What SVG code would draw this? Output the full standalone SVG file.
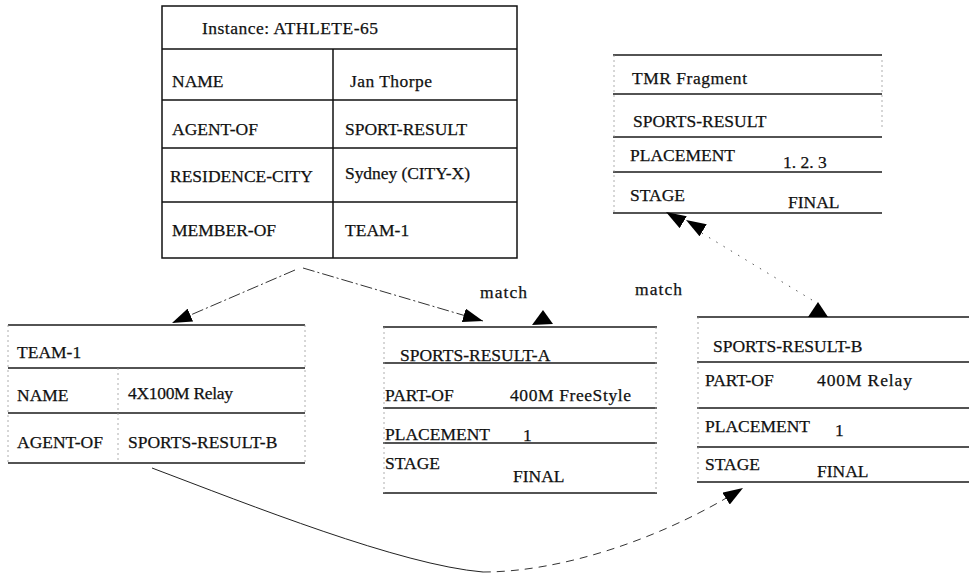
<svg xmlns="http://www.w3.org/2000/svg" width="969" height="573" viewBox="0 0 969 573">
  <style>
    .t { font-family: "Liberation Serif", "DejaVu Serif", serif; font-size: 17.5px; fill: #111; stroke: #111; stroke-width: 0.25; }
    .box { stroke: #111; stroke-width: 1.5; fill: none; }
    .rule { stroke: #1a1a1a; stroke-width: 1.3; fill: none; }
    .faint { stroke: #9a9a9a; stroke-width: 0.8; stroke-dasharray: 2 3; fill: none; }
    .dash { stroke: #333; stroke-width: 1; stroke-dasharray: 12 3 2 3; fill: none; }
    .dot { stroke: #555; stroke-width: 1; stroke-dasharray: 1.5 7; fill: none; }
    .curve { stroke: #222; stroke-width: 1; fill: none; }
    .curve-dash { stroke: #333; stroke-width: 1; stroke-dasharray: 8 6; fill: none; }
    .head { fill: #000; }
  </style>
  <defs>
    <marker id="arrow" markerUnits="userSpaceOnUse" viewBox="0 0 20 14" markerWidth="20" markerHeight="14" refX="20" refY="7" orient="auto">
      <path d="M0,0 L20,7 L0,14 z" fill="#000"/>
    </marker>
  </defs>
  <rect width="969" height="573" fill="#fff"/>

  <!-- Instance frame ATHLETE-65 -->
  <g id="athlete-65">
    <rect class="box" x="162" y="6" width="355" height="252"/>
    <line class="box" x1="162" y1="49" x2="517" y2="49"/>
    <line class="box" x1="162" y1="100" x2="517" y2="100"/>
    <line class="box" x1="162" y1="148" x2="517" y2="148"/>
    <line class="box" x1="162" y1="202" x2="517" y2="202"/>
    <line class="box" x1="333" y1="49" x2="333" y2="258"/>
    <text class="t" x="202" y="34" textLength="176" lengthAdjust="spacing">Instance: ATHLETE-65</text>
    <text class="t" x="172" y="87">NAME</text>
    <text class="t" x="350" y="87" textLength="82" lengthAdjust="spacing">Jan Thorpe</text>
    <text class="t" x="172" y="135">AGENT-OF</text>
    <text class="t" x="345" y="135">SPORT-RESULT</text>
    <text class="t" x="170" y="182">RESIDENCE-CITY</text>
    <text class="t" x="345" y="179" textLength="125" lengthAdjust="spacing">Sydney (CITY-X)</text>
    <text class="t" x="172" y="236">MEMBER-OF</text>
    <text class="t" x="345" y="236">TEAM-1</text>
  </g>

  <!-- TMR fragment -->
  <g id="tmr-fragment">
    <line class="rule" x1="613" y1="55" x2="882" y2="55"/>
    <line class="rule" x1="613" y1="94" x2="882" y2="94"/>
    <line class="rule" x1="613" y1="137" x2="882" y2="137"/>
    <line class="rule" x1="613" y1="172" x2="882" y2="172"/>
    <line class="rule" x1="613" y1="213" x2="882" y2="213"/>
    <line class="faint" x1="614" y1="55" x2="614" y2="213"/>
    <line class="faint" x1="882" y1="60" x2="882" y2="130"/>
    <text class="t" x="632" y="84" textLength="115" lengthAdjust="spacing">TMR Fragment</text>
    <text class="t" x="633" y="127">SPORTS-RESULT</text>
    <text class="t" x="630" y="161">PLACEMENT</text>
    <text class="t" x="783" y="168">1. 2. 3</text>
    <text class="t" x="630" y="201">STAGE</text>
    <text class="t" x="788" y="208">FINAL</text>
  </g>

  <!-- TEAM-1 frame -->
  <g id="team-1">
    <line class="rule" x1="8" y1="325" x2="305" y2="325"/>
    <line class="rule" x1="8" y1="368" x2="305" y2="368"/>
    <line class="rule" x1="8" y1="413" x2="305" y2="413"/>
    <line class="rule" x1="8" y1="463" x2="305" y2="463"/>
    <line class="faint" x1="8" y1="325" x2="8" y2="463"/>
    <line class="faint" x1="305" y1="325" x2="305" y2="463"/>
    <line class="faint" x1="118" y1="368" x2="118" y2="463"/>
    <text class="t" x="17" y="358">TEAM-1</text>
    <text class="t" x="17" y="401">NAME</text>
    <text class="t" x="128" y="399" textLength="105" lengthAdjust="spacing">4X100M Relay</text>
    <text class="t" x="17" y="448">AGENT-OF</text>
    <text class="t" x="128" y="448">SPORTS-RESULT-B</text>
  </g>

  <!-- SPORTS-RESULT-A frame -->
  <g id="sports-result-a">
    <line class="rule" x1="383" y1="327" x2="657" y2="327"/>
    <line class="rule" x1="383" y1="363" x2="657" y2="363"/>
    <line class="rule" x1="383" y1="408" x2="657" y2="408"/>
    <line class="rule" x1="383" y1="443" x2="657" y2="443"/>
    <line class="rule" x1="383" y1="493" x2="657" y2="493"/>
    <line class="faint" x1="384" y1="327" x2="384" y2="493"/>
    <line class="faint" x1="656" y1="327" x2="656" y2="493"/>
    <text class="t" x="400" y="361">SPORTS-RESULT-A</text>
    <text class="t" x="385" y="401">PART-OF</text>
    <text class="t" x="510" y="401" textLength="121" lengthAdjust="spacing">400M FreeStyle</text>
    <text class="t" x="385" y="440">PLACEMENT</text>
    <text class="t" x="523" y="441">1</text>
    <text class="t" x="385" y="469">STAGE</text>
    <text class="t" x="513" y="482">FINAL</text>
  </g>

  <!-- SPORTS-RESULT-B frame -->
  <g id="sports-result-b">
    <line class="rule" x1="697" y1="317" x2="969" y2="317"/>
    <line class="rule" x1="697" y1="362" x2="969" y2="362"/>
    <line class="rule" x1="697" y1="408" x2="969" y2="408"/>
    <line class="rule" x1="697" y1="447" x2="969" y2="447"/>
    <line class="rule" x1="697" y1="482" x2="969" y2="482"/>
    <line class="faint" x1="698" y1="317" x2="698" y2="482"/>
    <text class="t" x="713" y="352">SPORTS-RESULT-B</text>
    <text class="t" x="705" y="386">PART-OF</text>
    <text class="t" x="817" y="386" textLength="95" lengthAdjust="spacing">400M Relay</text>
    <text class="t" x="705" y="432">PLACEMENT</text>
    <text class="t" x="835" y="436">1</text>
    <text class="t" x="705" y="470">STAGE</text>
    <text class="t" x="817" y="477">FINAL</text>
  </g>

  <!-- Links between frames -->
  <g id="connectors">
    <path class="dash" d="M295,270 L172,323" marker-end="url(#arrow)"/>
    <path class="dash" d="M303,268 L483,321" marker-end="url(#arrow)"/>
    <polygon class="head" points="543,310 532,325 553,324"/>
    <text class="t" x="480" y="298" textLength="47" lengthAdjust="spacing">match</text>

    <path class="dot" d="M812,300 L700,232"/>
    <path d="M688,225 L666,212" stroke="none" marker-end="url(#arrow)"/>
    <path d="M706,232 L686,220" stroke="none" marker-end="url(#arrow)"/>
    <polygon class="head" points="818,302 808,317 828,317"/>
    <text class="t" x="635" y="295" textLength="47" lengthAdjust="spacing">match</text>

    <path class="curve" d="M152,468 C250,505 400,565 483,572"/>
    <path class="curve-dash" d="M483,572 C560,572 660,540 743,488" marker-end="url(#arrow)"/>
  </g>
</svg>
